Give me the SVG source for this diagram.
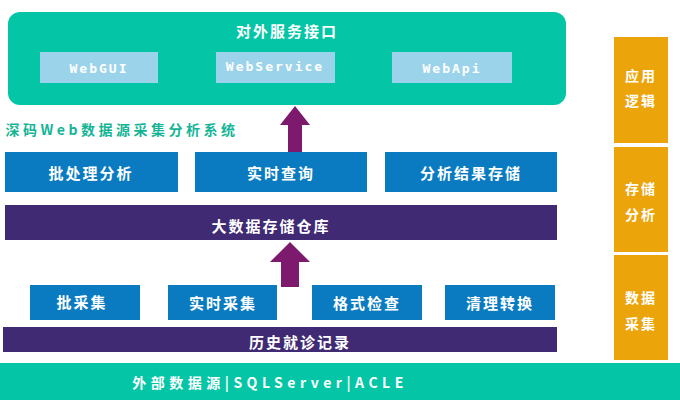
<svg xmlns="http://www.w3.org/2000/svg" width="680" height="400" viewBox="0 0 680 400">
<style>
text{font-family:"Noto Sans CJK SC","Noto Sans",sans-serif;font-weight:bold;fill:#fff;text-anchor:middle;dominant-baseline:central;letter-spacing:2px}
.blue{fill:#0a7bc1}.pur{fill:#3f2a73}.grn{fill:#04c6a6}.org{fill:#eca40b}.lb{fill:#9bd3ea}
.mono{font-family:"DejaVu Sans Mono",monospace;font-size:13px}
</style>
<rect width="680" height="400" fill="#fff"/>
<g id="top"><rect class="grn" x="8" y="12" width="558" height="93" rx="12"/><text x="287" y="30" font-size="15">对外服务接口</text></g>
<g id="webgui"><rect class="lb" x="40" y="52" width="118" height="31"/><text class="mono" x="99" y="68">WebGUI</text></g>
<g id="websvc"><rect class="lb" x="216" y="52" width="119" height="31"/><text class="mono" x="275" y="66">WebService</text></g>
<g id="webapi"><rect class="lb" x="392" y="52" width="120" height="31"/><text class="mono" x="452" y="68">WebApi</text></g>
<text x="122" y="129" font-size="14" style="fill:#14b596;letter-spacing:3.5px">深码Web数据源采集分析系统</text>
<g id="connectors" fill="#7d1a6e">
<polygon points="295,106 310,125 302,125 302,152 288,152 288,125 280,125"/>
<polygon points="290,242 310,262 299,262 299,287 281,287 281,262 270,262"/>
</g>
<g id="b1"><rect class="blue" x="5" y="152" width="173" height="40"/><text x="91" y="172" font-size="15">批处理分析</text></g>
<g id="b2"><rect class="blue" x="195" y="152" width="172" height="40"/><text x="281" y="172" font-size="15">实时查询</text></g>
<g id="b3"><rect class="blue" x="385" y="152" width="172" height="40"/><text x="471" y="172" font-size="15">分析结果存储</text></g>
<g id="store"><rect class="pur" x="5" y="205" width="552" height="35"/><text x="271" y="225" font-size="15">大数据存储仓库</text></g>
<g id="c1"><rect class="blue" x="30" y="285" width="110" height="35"/><text x="82" y="301" font-size="15">批采集</text></g>
<g id="c2"><rect class="blue" x="168" y="285" width="109" height="35"/><text x="223" y="302" font-size="15">实时采集</text></g>
<g id="c3"><rect class="blue" x="312" y="285" width="110" height="35"/><text x="367" y="302" font-size="15">格式检查</text></g>
<g id="c4"><rect class="blue" x="445" y="285" width="110" height="35"/><text x="500" y="302" font-size="15">清理转换</text></g>
<g id="hist"><rect class="pur" x="3" y="327" width="554" height="25"/><text x="300" y="341" font-size="15">历史就诊记录</text></g>
<g id="ext"><rect class="grn" x="0" y="363" width="680" height="37"/><text x="270" y="382" font-size="14" style="letter-spacing:4.5px">外部数据源|SQLServer|ACLE</text></g>
<g id="o1"><rect class="org" x="614" y="37" width="54" height="106"/><text x="641" y="75" font-size="14">应用</text><text x="641" y="100" font-size="14">逻辑</text></g>
<g id="o2"><rect class="org" x="614" y="147" width="54" height="105"/><text x="641" y="188" font-size="14">存储</text><text x="641" y="214" font-size="14">分析</text></g>
<g id="o3"><rect class="org" x="614" y="255" width="54" height="105"/><text x="641" y="297" font-size="14">数据</text><text x="641" y="323" font-size="14">采集</text></g>
</svg>
